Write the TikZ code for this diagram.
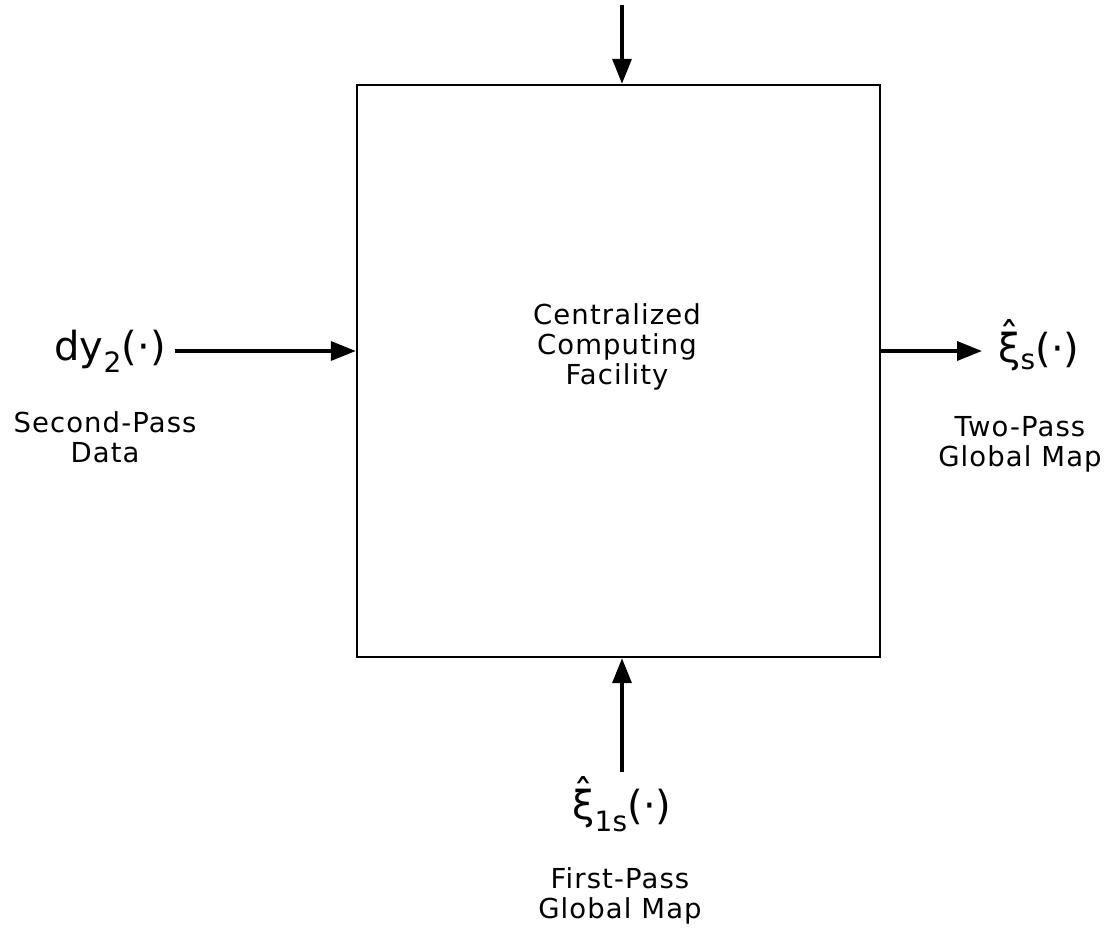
\documentclass[tikz,border=0pt]{standalone}
\usepackage{amsmath}
\usepackage{fontspec}
\setmainfont{DejaVu Sans}[LetterSpace=4]
\newfontfamily\sigfont{DejaVu Sans}
\usetikzlibrary{arrows.meta}
% hatted xi built from the text font
\newcommand{\xihat}{\ooalign{ξ\cr\hidewidth\raisebox{0.28em}{ˆ}\hidewidth\cr}}

\begin{document}
\begin{tikzpicture}[x=1pt,y=-1pt,
    arr/.style={line width=3.6pt,-{Triangle[length=25pt,width=19pt]}},
    lbl/.style={align=center,font=\fontsize{27.5}{30}\selectfont},
    sig/.style={inner sep=0pt,font=\sigfont\fontsize{40}{44}\selectfont}]
  \useasboundingbox (0,0) rectangle (1113,928);
  % computing facility
  \node[draw,line width=2.4pt,minimum width=523pt,minimum height=572pt,inner sep=0pt] (cfc) at (618.5,371) {};
  \node[lbl] (cfctext) at (617,347) {Centralized\\Computing\\Facility};
  % inputs and outputs
  \coordinate (topin) at (622,5);
  \node[sig,anchor=east] (dy) at (166,351) {dy\textsubscript{2}(·)};
  \node[sig,anchor=west] (xis) at (998,351) {\xihat\textsubscript{s}(·)};
  \node[sig,anchor=north] (xifs) at (622,789) {\xihat\textsubscript{1s}(·)};
  \node[lbl] (dylbl) at (105,437) {Second-Pass\\Data};
  \node[lbl] (xislbl) at (1020,444) {Two-Pass\\Global Map};
  \node[lbl] (xifslbl) at (620,896) {First-Pass\\Global Map};
  % arrows
  \draw[arr] ([xshift=9pt]dy.east) -- (dy.east -| cfc.west);
  \draw[arr] (xis.west -| cfc.east) -- ([xshift=-16pt]xis.west);
  \draw[arr] (topin) -- (topin |- cfc.north);
  \draw[arr] ([yshift=17pt]xifs.north) -- (xifs.north |- cfc.south);
\end{tikzpicture}
\end{document}
